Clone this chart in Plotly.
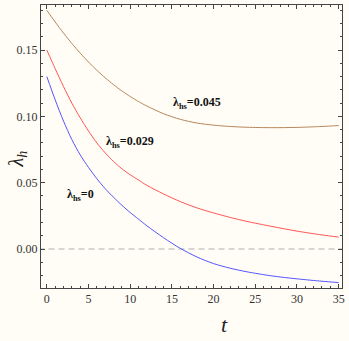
import plotly.graph_objects as go

t_vals = [0, 1, 2, 3, 4, 5, 6, 7, 8, 9, 10, 11, 12, 14, 16, 18, 20, 22, 24, 27, 30, 33, 35]
blue_vals = [0.130, 0.1125, 0.0965, 0.0825, 0.071, 0.0615, 0.053, 0.0455, 0.039, 0.033, 0.0275, 0.0225,
             0.0175, 0.0085, 0.0005, -0.006, -0.011, -0.0145, -0.0172, -0.0203, -0.0225, -0.0243, -0.0253]
red_vals = [0.150, 0.136, 0.1225, 0.110, 0.099, 0.089, 0.080, 0.0725, 0.066, 0.0605, 0.056, 0.052,
            0.048, 0.0415, 0.0358, 0.031, 0.0272, 0.0238, 0.0208, 0.017, 0.0135, 0.0106, 0.009]
brown_vals = [0.180, 0.1712, 0.1628, 0.1550, 0.1477, 0.1410, 0.1348, 0.1291, 0.1239, 0.1192, 0.1150, 0.1112,
              0.1078, 0.1020, 0.0978, 0.0950, 0.0934, 0.0924, 0.0918, 0.0915, 0.0917, 0.0924, 0.0931]

labels = ["λ<sub>hs</sub>=0.045", "λ<sub>hs</sub>=0.029", "λ<sub>hs</sub>=0"]
label_x = [18.0, 10.0, 4.05]
label_y = [0.110, 0.0806, 0.0407]

x_ticks = [0, 5, 10, 15, 20, 25, 30, 35]
y_ticks = [0.00, 0.05, 0.10, 0.15]
y_ticktext = ["0.00", "0.05", "0.10", "0.15"]

serif = "Liberation Serif, Times New Roman, serif"
bg = "#fffdf6"
fig = go.Figure()
fig.add_trace(go.Scatter(x=[-1, 36], y=[0, 0], mode="lines",
                         line=dict(color="#b0b0b0", width=1.2, dash="6px,4px"), hoverinfo="skip"))
fig.add_trace(go.Scatter(x=t_vals, y=brown_vals, mode="lines", line=dict(color="#b8875a", width=1, shape="spline", smoothing=0.8)))
fig.add_trace(go.Scatter(x=t_vals, y=red_vals, mode="lines", line=dict(color="#ff5555", width=1, shape="spline", smoothing=0.8)))
fig.add_trace(go.Scatter(x=t_vals, y=blue_vals, mode="lines", line=dict(color="#5555ff", width=1, shape="spline", smoothing=0.8)))

for txt, lx, ly in zip(labels, label_x, label_y):
    fig.add_annotation(x=lx, y=ly, text="<b>" + txt + "</b>", showarrow=False,
                       font=dict(family=serif, size=12, color="#111"))

# axis titles, placed as in the reference
fig.add_annotation(xref="paper", yref="paper", x=0.609, y=-0.128, text="<i>t</i>", showarrow=False,
                   xanchor="center", yanchor="middle", font=dict(family=serif, size=22, color="#222"))
fig.add_annotation(xref="paper", yref="paper", x=-0.079, y=0.455, text="<i>λ<sub>h</sub></i>", showarrow=False,
                   textangle=-90, xanchor="center", yanchor="middle", font=dict(family=serif, size=20, color="#222"))

axis_common = dict(showgrid=False, zeroline=False, showline=True, linecolor="#444", linewidth=1,
                   mirror="ticks", ticks="inside", ticklen=4, tickcolor="#444",
                   tickfont=dict(family=serif, size=12, color="#333"))

fig.update_xaxes(range=[-0.7, 35.4], tickvals=x_ticks, ticklabeloverflow="allow",
                 minor=dict(ticks="inside", dtick=1, ticklen=2, tickcolor="#444"),
                 **axis_common)
fig.update_yaxes(range=[-0.0294, 0.184], tickvals=y_ticks, ticktext=y_ticktext,
                 minor=dict(ticks="inside", dtick=0.01, tick0=0, ticklen=2, tickcolor="#444"),
                 **axis_common)

fig.update_layout(width=349, height=341, margin=dict(l=41, r=4, t=5, b=53),
                  paper_bgcolor=bg, plot_bgcolor=bg, showlegend=False)
fig.write_html("out.html", config={"displayModeBar": False},
               post_script="document.body.style.margin='0';document.body.style.overflow='hidden';")
